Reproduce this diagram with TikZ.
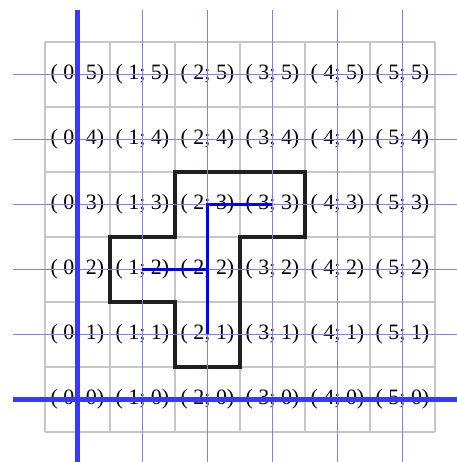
\documentclass[tikz,border=0pt]{standalone}
\usepackage{fontspec}
\setmainfont{Liberation Serif}
\begin{document}
\begin{tikzpicture}[x=1cm,y=1cm,
  gridline/.style={draw=black!22,line width=0.6pt},
  thinaxis/.style={draw=blue!50,line width=0.45pt},
  thickaxis/.style={draw=blue!78,line width=1.8pt},
  lbl/.style={inner sep=0pt,font=\fontsize{9.6}{10}\selectfont},
  region/.style={draw=black!88,line width=1.6pt},
  route/.style={draw=blue,line width=1.5pt}]
\useasboundingbox (-0.692,-0.4615) rectangle (6.338,6.646);
\clip (-0.692,-0.4615) rectangle (6.338,6.646);
% gray grid
\draw[gridline] (0,0) grid (6,6);
% labels
\foreach \i in {0,...,5}{
  \foreach \j in {0,...,5}{
    \node[lbl] (c-\i-\j) at (\i+0.5,\j+0.5) {( \i; \j)};
  }
}
% black region
\draw[region] (2,4) -- (4,4) -- (4,3) -- (3,3) -- (3,1) -- (2,1) -- (2,2) -- (1,2) -- (1,3) -- (2,3) -- cycle;
% thin blue lines
\foreach \k in {1,...,5}{
  \draw[thinaxis] (\k+0.5,6.49) -- (\k+0.5,-0.6);
  \draw[thinaxis] (-0.49,\k+0.5) -- (6.5,\k+0.5);
}
% thick axes
\draw[thickaxis] (0.5,6.49) -- (0.5,-0.6);
\draw[thickaxis] (-0.49,0.5) -- (6.5,0.5);
% blue route
\draw[route] (c-1-2.center) -- (c-2-2.center);
\draw[route] (c-2-1.center) -- (c-2-2.center) -- (c-2-3.center) -- (c-3-3.center);
\end{tikzpicture}
\end{document}
